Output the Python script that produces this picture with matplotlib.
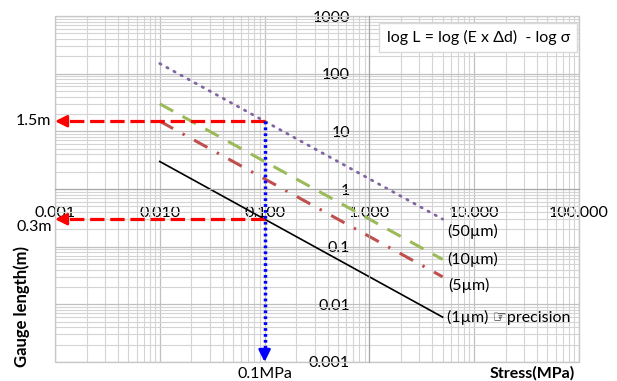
import matplotlib
matplotlib.use('Agg')
import matplotlib.pyplot as plt
from matplotlib.patches import Rectangle
from matplotlib.ticker import FixedLocator, NullFormatter, LogLocator

plt.rcParams['font.family'] = ['Lato', 'DejaVu Sans']

# stress (MPa) where each line is drawn
stress = [0.01, 0.1, 1, 5]
# gauge length (m) for each displacement precision
gauge_1um = [3, 0.3, 0.03, 0.006]
gauge_5um = [15, 1.5, 0.15, 0.03]
gauge_10um = [30, 3, 0.3, 0.06]
gauge_50um = [150, 15, 1.5, 0.3]

x_ticks = [0.001, 0.01, 0.1, 1, 10, 100]
x_labels = ['0.001', '0.010', '0.100', '1.000', '10.000', '100.000']
y_ticks = [0.001, 0.01, 0.1, 1, 10, 100, 1000]
y_labels = ['0.001', '0.01', '0.1', '1', '10', '100', '1000']

# guide arrows
guide_x = 0.1
guide_levels = [15, 0.3]

fig = plt.figure(figsize=(6.17, 3.81), dpi=100)
ax = fig.add_axes([0.0891, 0.0499, 0.8493, 0.908])
ax.set_xscale('log')
ax.set_yscale('log')
ax.set_xlim(0.001, 100)
ax.set_ylim(0.001, 1000)

# gridlines
ax.xaxis.set_minor_locator(LogLocator(base=10, subs=range(2, 10)))
ax.yaxis.set_minor_locator(LogLocator(base=10, subs=range(2, 10)))
ax.xaxis.set_minor_formatter(NullFormatter())
ax.yaxis.set_minor_formatter(NullFormatter())
ax.grid(True, which='major', color='#c0c0c0', lw=0.9)
ax.grid(True, which='minor', color='#d4d4d4', lw=0.8)
ax.set_axisbelow(True)

# axes cross at (1, 1)
for s in ['top', 'right']:
    ax.spines[s].set_visible(False)
ax.spines['left'].set_position(('data', 1))
ax.spines['bottom'].set_position(('data', 1))
ax.spines['left'].set_color('#a6a6a6')
ax.spines['bottom'].set_color('#a6a6a6')
ax.add_patch(Rectangle((0, 0), 1, 1, transform=ax.transAxes, fill=False,
                       ec='#c8c8c8', lw=1, clip_on=False))

ax.xaxis.set_major_locator(FixedLocator(x_ticks))
ax.set_xticklabels(x_labels)
ax.yaxis.set_major_locator(FixedLocator(y_ticks))
ax.set_yticklabels(y_labels)
ax.tick_params(which='both', length=0)
ax.tick_params(axis='x', pad=12, labelsize=11.5)
ax.tick_params(axis='y', pad=14, labelsize=11.5)

# series
ax.plot(stress, gauge_50um, color='#8064a2', lw=2, ls=(0, (0.5, 2.4)),
        dash_capstyle='round')
ax.plot(stress, gauge_10um, color='#9bbb59', lw=2.2, ls=(0, (5, 3.5)))
ax.plot(stress, gauge_5um, color='#c0504d', lw=2.2,
        ls=(0, (5, 3.5, 0.8, 3.5)))
ax.plot(stress, gauge_1um, color='black', lw=1.2)

# guide arrows
for lvl in guide_levels:
    ax.plot([guide_x, 0.00118], [lvl, lvl], color='red', lw=2.3,
            ls=(0, (4.5, 1.8)), clip_on=False)
    ax.annotate('', xy=(0.001, lvl), xytext=(0.0013, lvl),
                arrowprops=dict(arrowstyle='-|>,head_length=0.7,head_width=0.35',
                                color='red', lw=2, shrinkA=0, shrinkB=0))
ax.plot([guide_x, guide_x], [guide_levels[0], 0.0013], color='blue', lw=2.5,
        ls=(0, (0.8, 0.9)))
ax.annotate('', xy=(guide_x, 0.001), xytext=(guide_x, 0.0014),
            arrowprops=dict(arrowstyle='-|>,head_length=0.7,head_width=0.35',
                            color='blue', lw=2, shrinkA=0, shrinkB=0))

# series labels
lbl = dict(textcoords='offset points', ha='left', va='center', fontsize=11.5)
ax.annotate('(50\u00b5m)', xy=(stress[-1], gauge_50um[-1]), xytext=(3, -9), **lbl)
ax.annotate('(10\u00b5m)', xy=(stress[-1], gauge_10um[-1]), xytext=(3, 0), **lbl)
ax.annotate('(5\u00b5m)', xy=(stress[-1], gauge_5um[-1]), xytext=(4, -6), **lbl)
ax.annotate('(1\u00b5m) \u261eprecision', xy=(stress[-1], gauge_1um[-1]),
            xytext=(3, 0), **lbl)

# level labels
ax.annotate('1.5m', xy=(0.001, guide_levels[0]), xytext=(-3, 0),
            textcoords='offset points', ha='right', va='center', fontsize=11.5,
            annotation_clip=False)
ax.annotate('0.3m', xy=(0.001, guide_levels[1]), xytext=(-2, -6),
            textcoords='offset points', ha='right', va='center', fontsize=11.5,
            annotation_clip=False)
ax.annotate('0.1MPa', xy=(guide_x, 0.001), xytext=(0, -9),
            textcoords='offset points', ha='center', va='center', fontsize=11.5,
            annotation_clip=False)

fig.text(0.036, 0.195, 'Gauge length(m)', rotation=90, fontsize=12,
         fontweight='bold', ha='center', va='center')
fig.text(0.932, 0.021, 'Stress(MPa)', fontsize=11.5, fontweight='bold',
         ha='right', va='center')

ax.text(0.775, 0.902, 'log L = log (E x \u0394d)  - log \u03c3', transform=fig.transFigure,
        ha='center', va='center', fontsize=11.5,
        bbox=dict(boxstyle='square,pad=0.45', fc='white', ec='#d9d9d9', lw=1))

fig.savefig('out.png', dpi=100)
